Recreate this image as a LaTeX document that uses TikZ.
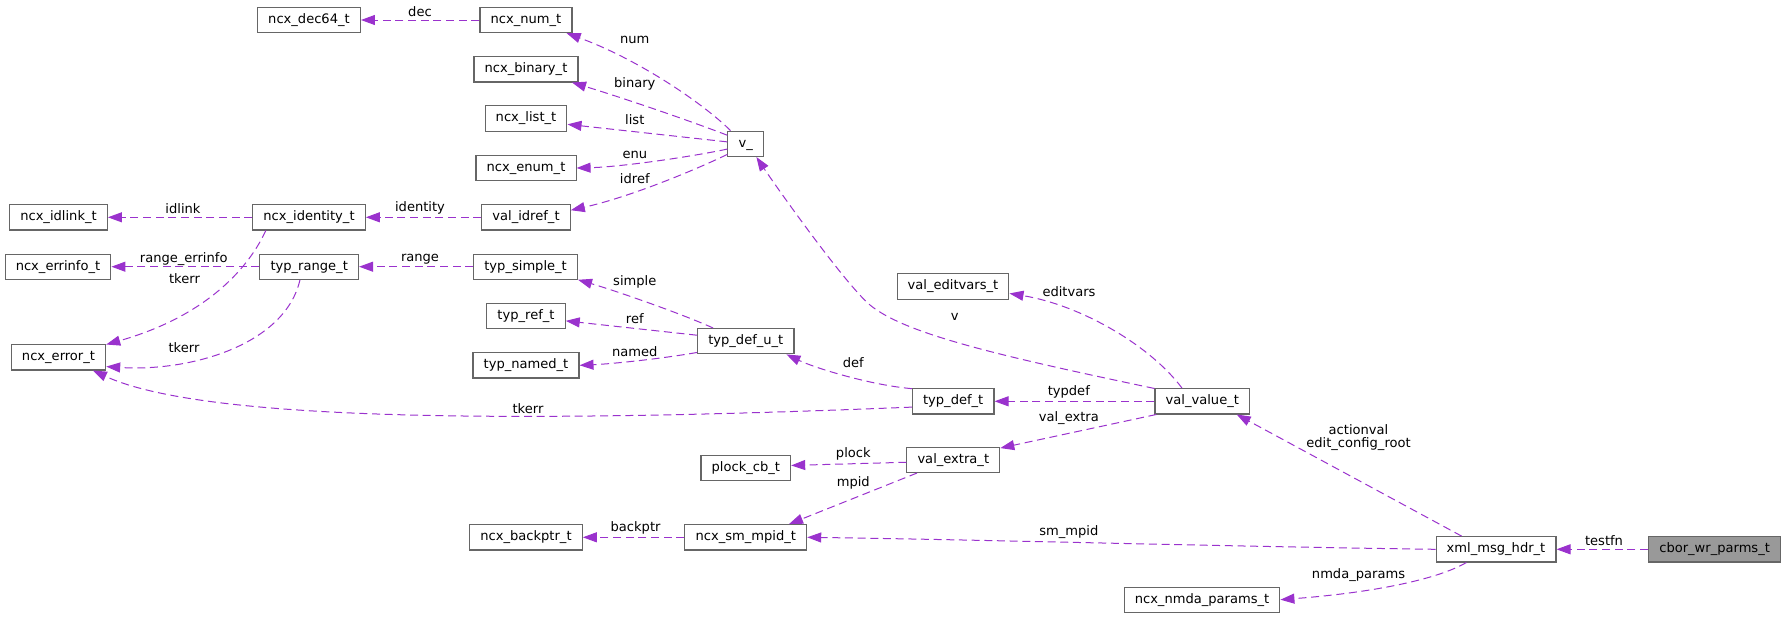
\documentclass[tikz,border=0pt]{standalone}
\usepackage{fontspec}
\setmainfont{DejaVu Sans}
\usetikzlibrary{arrows.meta}
\definecolor{edgePurple}{HTML}{9A32CD}
\definecolor{boxGray}{HTML}{666666}
\definecolor{rootFill}{HTML}{999999}
\newcommand{\classFont}{\fontsize{9.8}{10.2}\selectfont}
\tikzset{
    class box/.style={
        draw=boxGray, fill=white, line width=0.8pt, font=\classFont,
        minimum height=19pt, inner xsep=8pt, inner ysep=0pt,
        text height=7.2pt, text depth=2.2pt
    },
    root box/.style={class box, fill=rootFill},
    member edge/.style={
        draw=edgePurple, line width=0.75pt, dash pattern=on 6pt off 3.5pt,
        -{Triangle[length=10.5pt, width=7.5pt]}
    },
    edge label/.style={font=\classFont, inner sep=0pt}
}

\begin{document}
\begin{tikzpicture}[
            x=0.75pt, y=-0.75pt
        ]
        \useasboundingbox (0,0) rectangle (1787,618);

        \foreach \name/\x/\y/\txt in {
            dec64/309/20/ncx\_dec64\_t,
            num/526/20/ncx\_num\_t,
            binary/526/69.3/ncx\_binary\_t,
            list/526/118.5/ncx\_list\_t,
            enum/526/168/ncx\_enum\_t,
            idref/526/217.3/val\_idref\_t,
            idlink/58.5/217.3/ncx\_idlink\_t,
            identity/309/217.3/ncx\_identity\_t,
            errinfo/58/266.7/ncx\_errinfo\_t,
            range/309.2/266.7/typ\_range\_t,
            simple/525.6/266.7/typ\_simple\_t,
            typref/526/316/typ\_ref\_t,
            named/526/365.3/typ\_named\_t,
            error/58.5/357.3/ncx\_error\_t,
            backptr/526/537.3/ncx\_backptr\_t,
            vunion/745.7/143.8/v\_,
            editvars/953/286.5/val\_editvars\_t,
            defu/745.8/341.2/typ\_def\_u\_t,
            typdef/953.2/401.3/typ\_def\_t,
            plock/745.8/467.8/plock\_cb\_t,
            extra/953.3/459.8/val\_extra\_t,
            mpid/745.8/537.3/ncx\_sm\_mpid\_t,
            value/1202.3/401.3/val\_value\_t,
            msghdr/1496/549.3/xml\_msg\_hdr\_t,
            nmda/1202/599.7/ncx\_nmda\_params\_t%
        } {
            \node[class box] (\name) at (\x,\y) {\txt};
        }
        \node[root box] (cbor) at (1714.6,549.3) {cbor\_wr\_parms\_t};

        \draw[member edge] (num.west) -- (dec64.east);
        \draw[member edge] (vunion.139) .. controls (705,105) and (640,60) .. (num.-18);
        \draw[member edge] (vunion.155) .. controls (685,119) and (620,97) .. (binary.-16);
        \draw[member edge] (vunion.174) -- (list.-8);
        \draw[member edge] (vunion.-164) .. controls (690,157) and (620,167) .. (enum.east);
        \draw[member edge] (vunion.-150) .. controls (695,170) and (630,197) .. (idref.9);
        \draw[member edge] (idref.west) -- (identity.east);
        \draw[member edge] (identity.west) -- (idlink.east);
        \draw[member edge] (identity.197) .. controls (250,265) and (210,315) .. (error.15);
        \draw[member edge] (range.west) -- (errinfo.east);
        \draw[member edge] (range.-125) .. controls (285,345) and (190,372) .. (error.-11);
        \draw[member edge] (simple.west) -- (range.east);
        \draw[member edge] (defu.158) .. controls (680,313) and (613,290) .. (simple.-14);
        \draw[member edge] (defu.173) -- (typref.-7);
        \draw[member edge] (defu.193) .. controls (660,359) and (610,364) .. (named.east);
        \draw[member edge] (typdef.163) .. controls (870,385) and (815,368) .. (defu.-18);
        \draw[member edge] (typdef.188) .. controls (500,424) and (200,420) .. (error.-21);
        \draw[member edge] (value.west) -- (typdef.east);
        \draw[member edge] (value.165) .. controls (1000,356) and (905,334) .. (870,305)
            .. controls (845,284) and (775,185) .. (vunion.-51);
        \draw[member edge] (value.147) .. controls (1150,345) and (1080,305) .. (editvars.-7);
        \draw[member edge] (value.196) -- (extra.14);
        \draw[member edge] (extra.183) -- (plock.3);
        \draw[member edge] (extra.200) -- (mpid.17);
        \draw[member edge] (mpid.west) -- (backptr.east);
        \draw[member edge] (msghdr.west) .. controls (1200,546) and (1000,540) .. (mpid.east);
        \draw[member edge] (msghdr.159) -- (value.-21);
        \draw[member edge] (msghdr.204) .. controls (1440,578) and (1380,592) .. (nmda.east);
        \draw[member edge] (cbor.west) -- (msghdr.east);

        \node[edge label] (lDec) at (420,11.7) {dec};
        \node[edge label] (lNum) at (634.8,39.7) {num};
        \node[edge label] (lBinary) at (634.8,84.3) {binary};
        \node[edge label] (lList) at (634.8,120) {list};
        \node[edge label] (lEnu) at (634.8,155) {enu};
        \node[edge label] (lIdref) at (634.8,179) {idref};
        \node[edge label] (lIdentity) at (420,208.3) {identity};
        \node[edge label] (lIdlink) at (183,208.3) {idlink};
        \node[edge label] (lTkerrA) at (184.5,278.3) {tkerr};
        \node[edge label] (lRangeErrinfo) at (183.7,259) {range\_errinfo};
        \node[edge label] (lRange) at (420,259) {range};
        \node[edge label] (lTkerrB) at (184,347.3) {tkerr};
        \node[edge label] (lSimple) at (634.8,282.3) {simple};
        \node[edge label] (lRef) at (634.8,318.3) {ref};
        \node[edge label] (lNamed) at (634.8,351.7) {named};
        \node[edge label] (lDef) at (853.3,362.7) {def};
        \node[edge label] (lTkerrC) at (528,408.3) {tkerr};
        \node[edge label] (lTypdef) at (1068.8,392.3) {typdef};
        \node[edge label] (lV) at (954.8,316.7) {v};
        \node[edge label] (lEditvars) at (1069,291.7) {editvars};
        \node[edge label] (lValExtra) at (1068.8,418.3) {val\_extra};
        \node[edge label] (lPlock) at (853.3,454.3) {plock};
        \node[edge label] (lMpid) at (853.3,482.7) {mpid};
        \node[edge label] (lBackptr) at (635.6,528.3) {backptr};
        \node[edge label] (lSmMpid) at (1068.8,532.3) {sm\_mpid};
        \node[edge label, align=center] (lActionval) at (1358.5,437.5) {actionval\\edit\_config\_root};
        \node[edge label] (lNmdaParams) at (1358.5,575) {nmda\_params};
        \node[edge label] (lTestfn) at (1604,540.7) {testfn};
    \end{tikzpicture}
\end{document}
